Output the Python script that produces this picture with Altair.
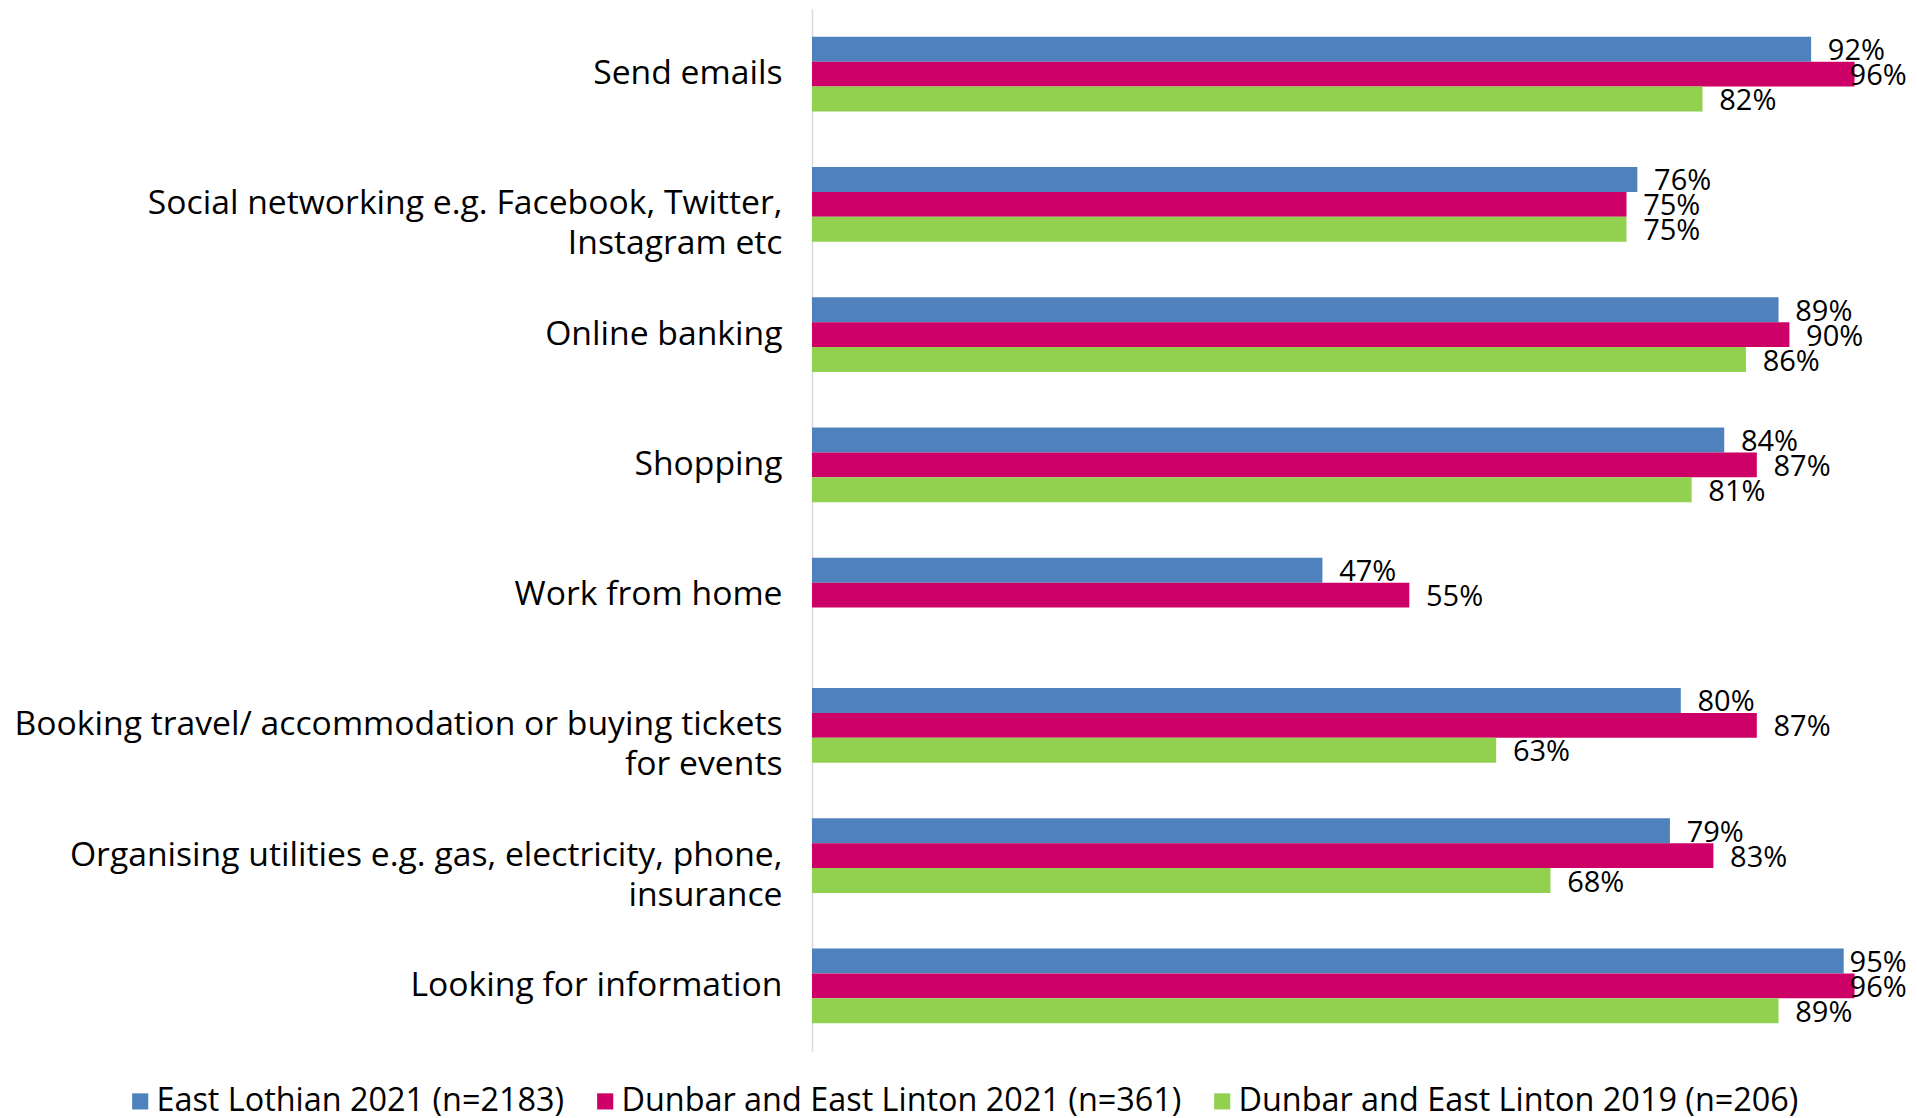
import altair as alt
import pandas as pd

categories = [
    "Send emails",
    "Social networking e.g. Facebook, Twitter,|Instagram etc",
    "Online banking",
    "Shopping",
    "Work from home",
    "Booking travel/ accommodation or buying tickets|for events",
    "Organising utilities e.g. gas, electricity, phone,|insurance",
    "Looking for information",
]
series = [
    "East Lothian 2021 (n=2183)",
    "Dunbar and East Linton 2021 (n=361)",
    "Dunbar and East Linton 2019 (n=206)",
]
colors = ["#4F81BD", "#CC0066", "#92D050"]

east_lothian_2021 = [92, 76, 89, 84, 47, 80, 79, 95]
dunbar_2021 = [96, 75, 90, 87, 55, 87, 83, 96]
dunbar_2019 = [82, 75, 86, 81, None, 63, 68, 89]

rows = []
for s, vals in zip(series, [east_lothian_2021, dunbar_2021, dunbar_2019]):
    for c, v in zip(categories, vals):
        if v is not None:
            rows.append({"category": c, "series": s, "value": v})
df = pd.DataFrame(rows)

FONT = "Open Sans"
FS = 33.7
FS_LEG = 32.4
FS_PCT = 29

y_enc = alt.Y(
    "category:N",
    sort=categories,
    scale=alt.Scale(paddingInner=0.425, paddingOuter=0.2125),
    axis=alt.Axis(
        title=None,
        ticks=False,
        grid=False,
        domainColor="#d9d9d9",
        domainWidth=1.5,
        labelFont=FONT,
        labelFontSize=FS,
        labelColor="#000000",
        labelPadding=30,
        labelLineHeight=40,
        labelLimit=1000,
        labelExpr="split(datum.label, '|')",
    ),
)
yoff = alt.YOffset("series:N", sort=series, scale=alt.Scale(paddingInner=0, paddingOuter=0))
x_enc = alt.X("value:Q", scale=alt.Scale(domain=[0, 100]), axis=None)

base = alt.Chart(df)

bars = base.mark_bar().encode(
    x=x_enc,
    y=y_enc,
    yOffset=yoff,
    color=alt.Color(
        "series:N",
        sort=series,
        scale=alt.Scale(domain=series, range=colors),
        legend=alt.Legend(
            title=None,
            orient="none",
            legendX=-688,
            legendY=1076,
            direction="horizontal",
            columns=3,
            symbolType="square",
            symbolSize=260,
            symbolStrokeWidth=0,
            labelFont=FONT,
            labelFontSize=FS_LEG,
            labelColor="#000000",
            labelLimit=1000,
            labelOffset=0,
            columnPadding=24,
        ),
    ),
)

# labels sit to the right of each bar, kept inside the chart's right edge
labels = (
    base.mark_text(
        align="right", baseline="middle", dy=2, font=FONT, fontSize=FS_PCT, color="#000000"
    )
    .transform_calculate(
        label="datum.value + '%'",
        lx="min(datum.value + 6.8, 100.8)",
    )
    .encode(
        x=alt.X("lx:Q", scale=alt.Scale(domain=[0, 100]), axis=None),
        y=alt.Y("category:N", sort=categories),
        yOffset=alt.YOffset("series:N", sort=series),
        text="label:N",
    )
)

chart = (
    alt.layer(bars, labels)
    .properties(
        width=1086,
        height=1042,
        autosize=alt.AutoSizeParams(type="none"),
        padding={"left": 804, "top": 1, "right": 11, "bottom": 76},
    )
    .configure_view(strokeWidth=0, stroke="transparent")
)

chart.save("out.html", embed_options={"renderer": "svg", "actions": False})
